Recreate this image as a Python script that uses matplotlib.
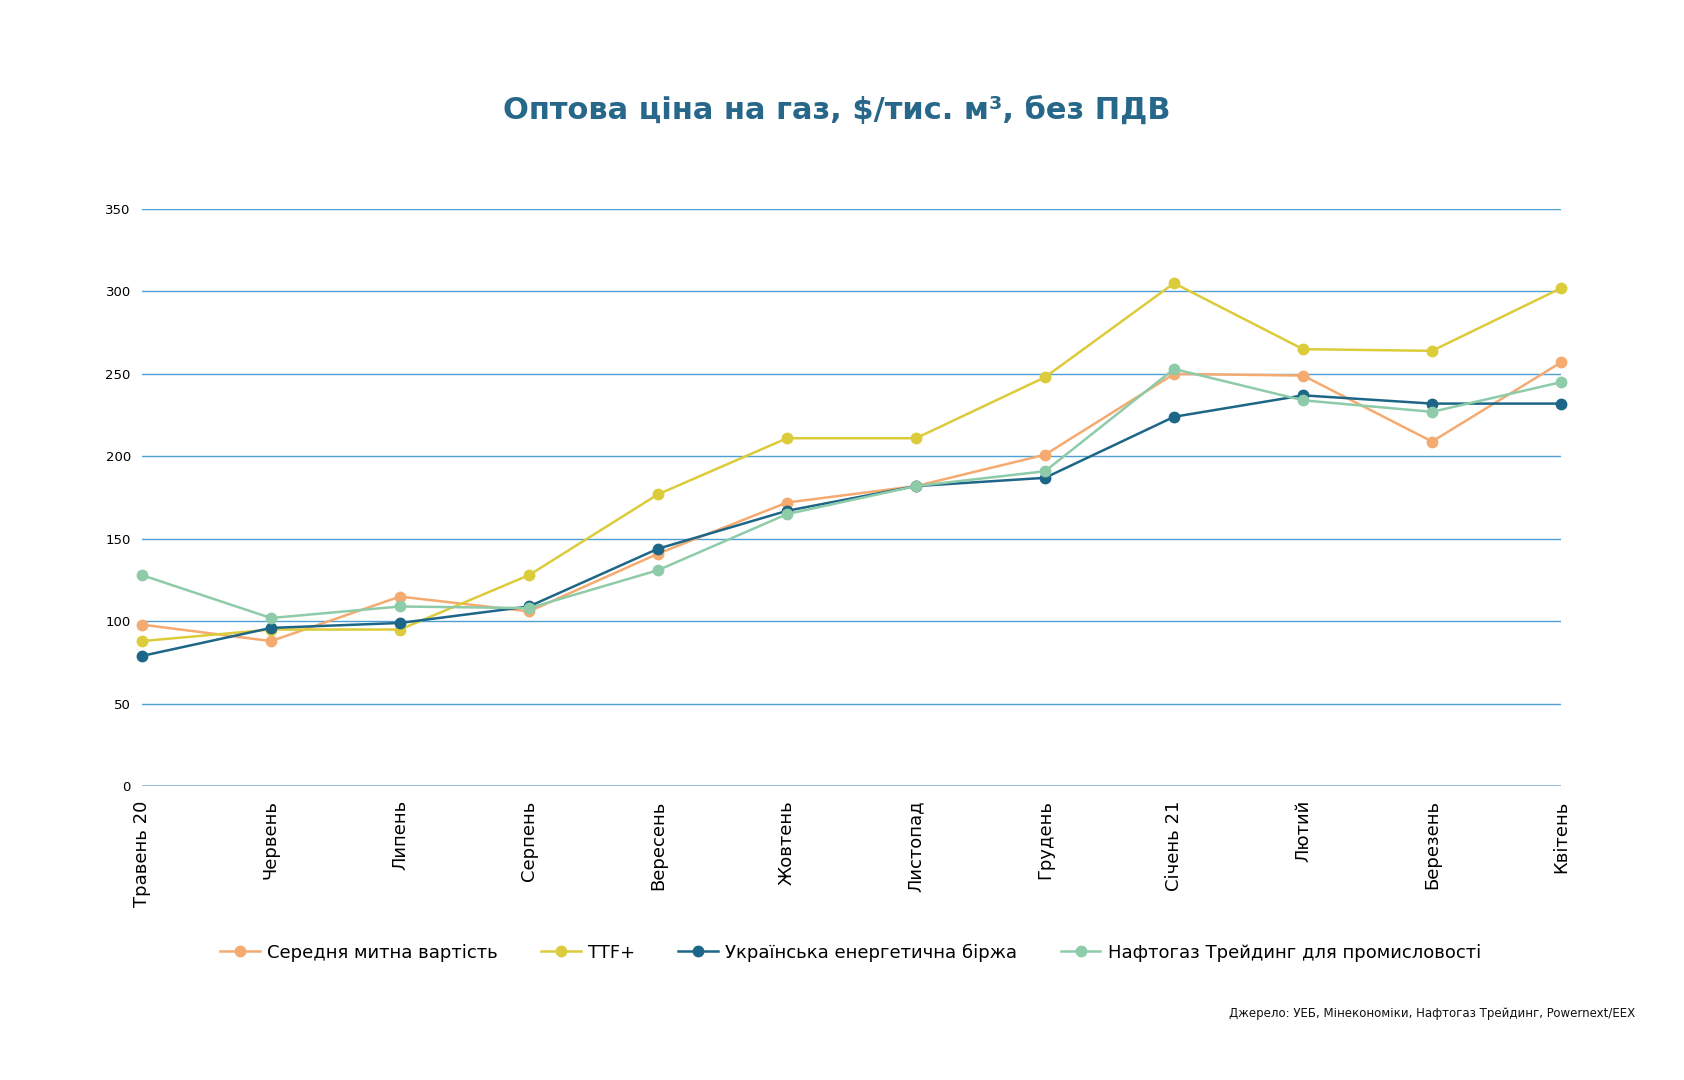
import matplotlib
matplotlib.use("Agg")
import matplotlib.pyplot as plt

months = ["Травень 20", "Червень", "Липень", "Серпень", "Вересень", "Жовтень",
          "Листопад", "Грудень", "Січень 21", "Лютий", "Березень", "Квітень"]

customs = [98, 88, 115, 106, 141, 172, 182, 201, 250, 249, 209, 257]
ttf = [88, 95, 95, 128, 177, 211, 211, 248, 305, 265, 264, 302]
ueb = [79, 96, 99, 109, 144, 167, 182, 187, 224, 237, 232, 232]
naftogaz = [128, 102, 109, 108, 131, 165, 182, 191, 253, 234, 227, 245]

series = [
    ("Середня митна вартість", customs, "#f5aa70"),
    ("TTF+", ttf, "#dccb3a"),
    ("Українська енергетична біржа", ueb, "#1d6687"),
    ("Нафтогаз Трейдинг для промисловості", naftogaz, "#8ecba9"),
]

fig = plt.figure(figsize=(16.84, 10.8), dpi=100)
ax = fig.add_axes([0.0843, 0.272, 0.8427, 0.5345])

x = list(range(len(months)))
for label, vals, color in series:
    ax.plot(x, vals, color=color, lw=1.8, marker="o", ms=7.5, label=label,
            clip_on=False, zorder=3)

ax.set_xlim(0, len(months) - 1)
ax.set_ylim(0, 350)
ax.set_yticks(range(0, 351, 50))
for y in range(50, 351, 50):
    ax.axhline(y, color="#4f9fd5", lw=1.0, zorder=1)
ax.axhline(0, color="#94c0de", lw=1.4, zorder=1)

for s in ax.spines.values():
    s.set_visible(False)
ax.tick_params(axis="y", length=0, pad=8, labelsize=9.5)
ax.tick_params(axis="x", length=0, pad=10, labelsize=13)
ax.set_xticks(x)
ax.set_xticklabels(months, rotation=90, va="top", ha="center")

fig.text(0.497, 0.898, "Оптова ціна на газ, \$/тис. м³, без ПДВ", ha="center",
         va="center", fontsize=22, fontweight="bold", color="#27678a")

fig.legend(loc="center", bbox_to_anchor=(0.505, 0.118), ncol=4, frameon=False,
           fontsize=13, handlelength=2.2, columnspacing=2.4, handletextpad=0.4)

fig.text(0.971, 0.062, "Джерело: УЕБ, Мінекономіки, Нафтогаз Трейдинг, Powernext/EEX",
         ha="right", va="center", fontsize=8.5, color="#111111")

fig.savefig("out.png", dpi=100, facecolor="white")
